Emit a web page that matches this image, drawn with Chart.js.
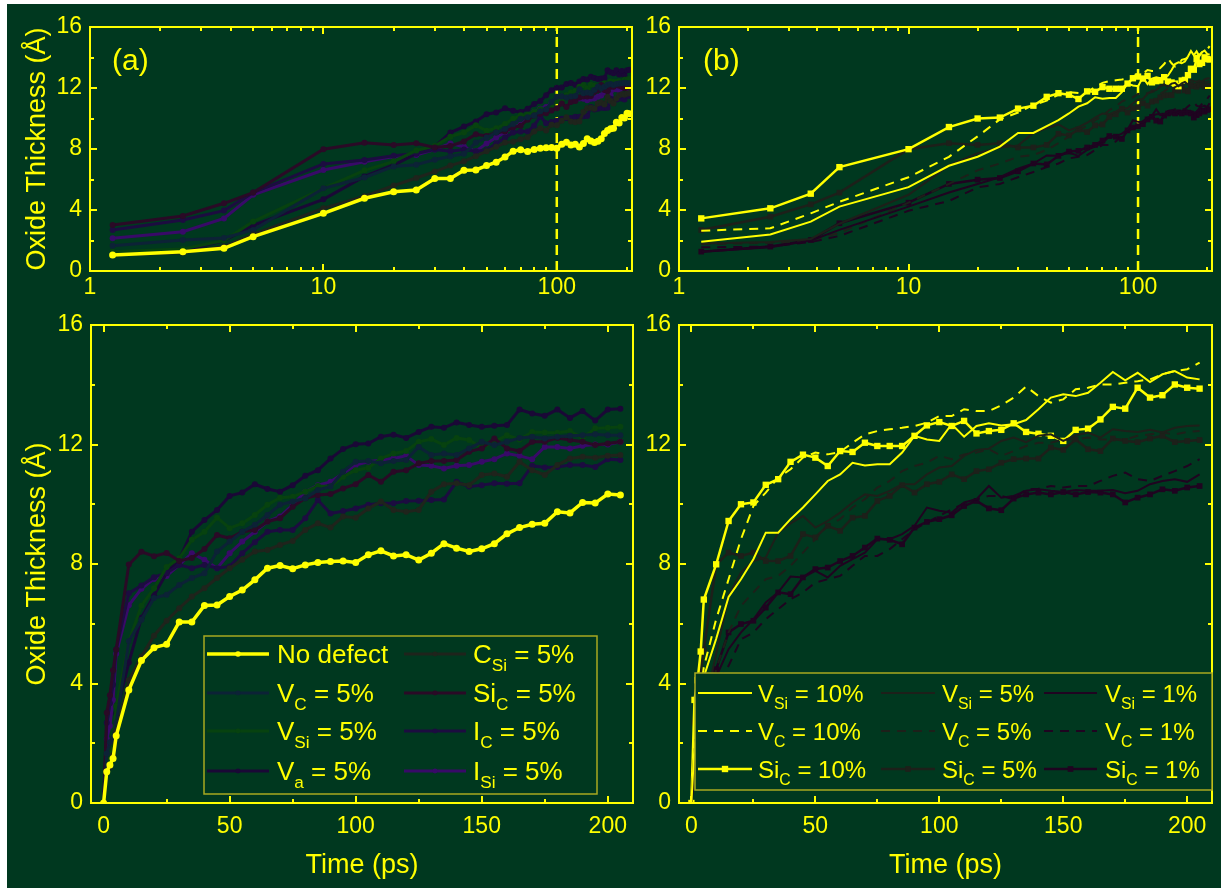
<!DOCTYPE html>
<html>
<head>
<meta charset="utf-8">
<script src="https://cdn.jsdelivr.net/npm/chart.js@4.4.1/dist/chart.umd.min.js"></script>
<style>
html, body { margin: 0; padding: 0; background: #ffffff; }
#bg { position: absolute; left: 7px; top: 4px; width: 1214px; height: 884px; background: #00381f; }
canvas { position: absolute; }
</style>
</head>
<body>
<div id="bg"></div>
<canvas id="pa" width="640" height="300" style="left:0;top:0"></canvas>
<canvas id="pb" width="581" height="300" style="left:640px;top:0"></canvas>
<canvas id="pc" width="640" height="588" style="left:0;top:300px"></canvas>
<canvas id="pd" width="581" height="588" style="left:640px;top:300px"></canvas>
<script>
// time axis (ps), shared by every series
const TIME = [0, 1.25, 2.5, 3.75, 5, 10, 15, 20, 25, 30, 35, 40, 45, 50, 55, 60, 65, 70, 75, 80, 85, 90, 95, 100,
  105, 110, 115, 120, 125, 130, 135, 140, 145, 150, 155, 160, 165, 170, 175, 180, 185, 190, 195, 200, 205];

// panels (a)/(c): 5% defects
const NO_DEFECT = [0, 1.05, 1.27, 1.49, 2.25, 3.78, 4.77, 5.2, 5.31, 6.06, 6.06, 6.61, 6.63, 6.91, 7.13, 7.47, 7.86, 7.95, 7.84, 7.97, 8.05, 8.08, 8.10,
  8.05, 8.31, 8.44, 8.27, 8.31, 8.13, 8.36, 8.68, 8.53, 8.42, 8.51, 8.68, 9.01, 9.22, 9.33, 9.36, 9.75, 9.71, 10.06, 10.04, 10.34, 10.31];
const C_SI_5 = [0, 1.05, 1.2, 1.6, 2.4, 4.11, 4.9, 5.6, 6.1, 6.52, 6.91, 7.19, 7.53, 7.86, 8.14, 8.42, 8.47, 8.64, 8.77, 9.14, 9.36, 9.22, 9.59,
  9.55, 9.86, 10.09, 9.81, 9.75, 9.81, 10.42, 10.67, 10.70, 10.64, 10.98, 11.03, 10.92, 11.42, 11.14, 10.98, 11.31, 11.53, 11.59, 11.56, 11.62, 11.65];
const V_C_5 = [0, 1.66, 2.03, 2.16, 2.69, 5.42, 6.13, 6.86, 6.97, 7.30, 7.53, 7.69, 8.42, 8.75, 9.08, 9.31, 9.64, 9.98, 10.09, 10.20, 10.48, 10.59, 11.09,
  11.42, 11.45, 11.37, 11.45, 11.48, 11.92, 11.65, 11.70, 11.65, 11.87, 12.09, 11.98, 12.09, 12.22, 12.26, 12.20, 12.26, 12.29, 12.31, 12.34, 12.31, 12.31];
const SI_C_5A = [0, 3.02, 3.61, 4.44, 5.14, 7.98, 8.41, 8.26, 8.37, 8.10, 8.20, 8.50, 8.97, 8.86, 9.08, 9.14, 9.42, 9.53, 9.92, 10.20, 10.31, 10.34, 10.53,
  10.67, 10.98, 10.75, 11.09, 11.14, 11.37, 11.45, 11.45, 11.48, 11.76, 11.87, 12.20, 11.87, 11.78, 12.09, 12.09, 12.22, 12.15, 12.09, 11.98, 12.03, 12.09];
const V_SI_5A = [0, 1.27, 1.45, 2.0, 3.24, 5.42, 6.6, 7.19, 7.9, 8.19, 8.81, 9.08, 9.55, 9.20, 9.36, 9.64, 9.98, 10.22, 10.25, 10.42, 10.61, 10.59, 10.92,
  11.14, 11.22, 11.53, 11.70, 11.78, 12.09, 12.18, 11.98, 12.22, 12.15, 11.89, 12.09, 12.31, 12.17, 12.42, 12.40, 12.39, 12.45, 12.22, 12.54, 12.56, 12.59];
const I_C_5 = [0, 2.69, 3.34, 3.96, 5.14, 7.02, 7.28, 7.56, 7.70, 7.97, 7.86, 7.97, 7.86, 7.92, 8.36, 8.73, 9.08, 9.14, 9.14, 9.53, 10.14, 9.69, 9.77,
  9.86, 9.98, 10.03, 10.03, 10.11, 10.12, 10.14, 10.16, 10.75, 10.59, 10.64, 10.70, 10.69, 10.70, 11.29, 11.23, 11.25, 11.31, 11.31, 11.25, 11.51, 11.48];
const V_A_5 = [0, 1.05, 1.3, 2.0, 3.0, 4.7, 6.2, 6.95, 7.7, 8.15, 9.08, 9.47, 9.81, 10.28, 10.39, 10.67, 10.51, 10.42, 10.64, 10.95, 11.14, 11.53, 11.85,
  12.01, 12.03, 12.26, 12.33, 12.22, 12.42, 12.59, 12.56, 12.74, 12.65, 12.59, 12.63, 12.65, 13.17, 13.04, 12.96, 13.17, 12.89, 13.12, 12.80, 13.17, 13.20];
const I_SI_5 = [0, 2.14, 2.58, 3.45, 5.0, 6.62, 7.17, 7.5, 7.6, 7.97, 8.36, 8.14, 7.86, 8.36, 8.75, 9.08, 9.42, 9.59, 9.98, 10.42, 10.64, 10.75, 11.03,
  11.31, 11.42, 11.48, 11.53, 11.62, 11.31, 11.29, 11.20, 11.29, 11.31, 11.42, 11.51, 11.70, 11.62, 11.51, 11.92, 11.92, 11.87, 11.96, 12.00, 12.00, 12.09];

// panels (b)/(d): concentration series
const V_SI_10 = [0, 1.92, 2.4, 3.24, 4.22, 5.5, 6.9, 7.49, 8.16, 9.05, 9.05, 9.5, 9.89, 10.33, 10.78, 11.0, 11.39, 11.30, 11.34, 11.34, 11.73, 12.29, 12.17,
  12.12, 12.68, 12.26, 12.62, 12.71, 12.64, 12.68, 12.82, 13.18, 13.57, 13.68, 13.62, 13.73, 14.07, 14.43, 14.15, 14.40, 14.09, 14.35, 14.46, 14.24, 14.18];
const V_SI_5 = [0, 1.81, 1.9, 2.1, 3.1, 5.0, 6.93, 7.72, 8.10, 8.22, 9.05, 9.36, 9.61, 9.22, 9.44, 9.72, 10.06, 10.33, 10.28, 10.45, 10.67, 10.67, 11.0,
  11.23, 11.28, 11.62, 11.82, 11.86, 12.12, 12.23, 12.08, 12.29, 12.34, 12.12, 12.31, 12.40, 12.23, 12.51, 12.45, 12.42, 12.49, 12.40, 12.56, 12.62, 12.64];
const V_SI_1 = [0, 1.27, 1.55, 2.0, 2.7, 4.22, 5.15, 5.71, 6.15, 6.71, 7.05, 7.58, 7.55, 7.77, 7.55, 7.94, 8.16, 8.38, 8.83, 8.83, 9.0, 9.28, 9.89,
  9.78, 9.72, 10.06, 10.17, 10.61, 10.22, 10.28, 10.45, 10.50, 10.45, 10.41, 10.48, 10.45, 10.45, 10.48, 10.37, 10.45, 10.67, 10.78, 10.84, 10.75, 11.0];
const V_C_10 = [0, 2.64, 2.8, 3.78, 4.54, 6.15, 7.49, 8.83, 9.94, 10.39, 10.89, 11.17, 11.56, 11.73, 11.67, 11.75, 12.06, 12.34, 12.45, 12.51, 12.56, 12.62, 12.73,
  12.95, 12.95, 13.18, 13.12, 13.12, 13.31, 13.57, 13.94, 13.62, 13.40, 13.51, 13.85, 13.90, 14.01, 14.01, 14.07, 14.12, 14.18, 14.35, 14.46, 14.52, 14.74];
const V_C_5B = [0, 1.75, 1.85, 2.0, 2.5, 4.48, 5.71, 6.60, 7.05, 7.49, 7.60, 7.94, 8.38, 8.83, 9.28, 9.50, 9.89, 10.17, 10.56, 10.78, 11.11, 11.28, 11.39,
  11.62, 11.51, 11.67, 11.73, 11.84, 11.62, 11.78, 11.95, 12.06, 12.06, 12.17, 12.17, 12.23, 12.17, 12.17, 12.17, 12.29, 12.34, 12.40, 12.34, 12.42, 12.45];
const V_C_1 = [0, 1.55, 1.6, 1.9, 2.3, 3.95, 4.59, 5.48, 5.71, 6.15, 6.49, 6.82, 7.05, 7.38, 7.49, 7.60, 7.94, 8.27, 8.27, 8.50, 8.83, 9.16, 9.39,
  9.61, 9.83, 10.03, 10.17, 10.28, 10.28, 10.17, 10.50, 10.52, 10.61, 10.56, 10.61, 10.61, 10.78, 10.95, 11.06, 10.84, 10.78, 10.95, 11.11, 11.28, 11.51];
const SI_C_10 = [0, 3.45, 4.11, 5.07, 6.81, 7.99, 9.44, 10.0, 10.06, 10.65, 10.84, 11.42, 11.66, 11.56, 11.28, 11.78, 11.75, 12.06, 11.95, 11.95, 11.95, 12.29, 12.64,
  12.75, 12.62, 12.79, 12.37, 12.45, 12.49, 12.71, 12.42, 12.36, 12.29, 12.12, 12.49, 12.53, 12.84, 13.26, 13.20, 13.90, 13.57, 13.65, 14.01, 13.90, 13.87];
const SI_C_5 = [0, 2.69, 3.56, 4.37, 5.14, 7.98, 8.38, 8.27, 8.38, 8.10, 8.10, 8.27, 9.0, 8.89, 9.28, 9.11, 9.55, 9.61, 10.11, 10.28, 10.64, 10.39, 10.67,
  10.75, 11.0, 10.84, 11.11, 11.17, 11.39, 11.51, 11.53, 11.53, 11.90, 11.82, 12.17, 11.84, 11.78, 12.20, 12.12, 12.08, 12.20, 12.29, 12.08, 12.12, 12.15];
const SI_C_1 = [0, 1.27, 1.6, 2.03, 3.13, 4.48, 5.71, 5.99, 6.10, 6.54, 7.05, 6.99, 7.55, 7.83, 7.88, 8.10, 8.27, 8.55, 8.85, 8.81, 8.66, 9.22, 9.41,
  9.50, 9.63, 9.94, 10.11, 9.86, 9.80, 10.19, 10.33, 10.39, 10.33, 10.41, 10.33, 10.41, 10.39, 10.33, 10.06, 10.22, 10.33, 10.50, 10.45, 10.56, 10.61];

const Y_TICKS = [0, 4, 8, 12, 16];
const Y_MINOR = [2, 6, 10, 14];
const LIN_TICKS = [0, 50, 100, 150, 200];
const LIN_MINOR = [25, 75, 125, 175];
const LOG_TICKS = [1, 10, 100];
const LOG_MINOR = [2, 3, 4, 5, 6, 7, 8, 9, 20, 30, 40, 50, 60, 70, 80, 90, 200];
const MARK_TIME = 100;

const YEL = '#ffff00';
const FONT = "'Liberation Sans', Arial, sans-serif";
Chart.defaults.font.family = FONT;
Chart.defaults.color = YEL;

// style of each series: [label, values, colour, width, point radius, point style, dash]
const DEFECTS = [
  ['No defect', NO_DEFECT, YEL, 3.5, 3.5],
  ['C_Si = 5%', C_SI_5, '#1f241c', 3, 3],
  ['V_C = 5%', V_C_5, '#0c2236', 3, 3],
  ['Si_C = 5%', SI_C_5A, '#2a0a26', 3, 3],
  ['V_Si = 5%', V_SI_5A, '#07420f', 3, 3],
  ['I_C = 5%', I_C_5, '#1c0c40', 3, 3],
  ['V_a = 5%', V_A_5, '#1a0836', 3, 3],
  ['I_Si = 5%', I_SI_5, '#380a68', 3, 3]
];
const GRAY = '#1d201a', MAROON = '#1f0420';
const CONC = [
  ['V_Si = 10%', V_SI_10, YEL, 2, 0, 'circle', []],
  ['V_Si = 5%', V_SI_5, GRAY, 2, 0, 'circle', []],
  ['V_Si = 1%', V_SI_1, MAROON, 2, 0, 'circle', []],
  ['V_C = 10%', V_C_10, YEL, 2, 0, 'circle', [9, 7]],
  ['V_C = 5%', V_C_5B, GRAY, 2, 0, 'circle', [9, 7]],
  ['V_C = 1%', V_C_1, MAROON, 2, 0, 'circle', [9, 7]],
  ['Si_C = 10%', SI_C_10, YEL, 2.5, 4.5, 'rect', []],
  ['Si_C = 5%', SI_C_5, GRAY, 2.5, 4, 'rect', []],
  ['Si_C = 1%', SI_C_1, MAROON, 2.5, 4, 'rect', []]
];

function makeDatasets(list, logX) {
  return list.map(([label, vals, color, w, r, ps, dash]) => ({
    label: label,
    data: TIME.map((t, i) => ({ x: t, y: vals[i] })).filter(p => !logX || p.x > 0),
    borderColor: color, backgroundColor: color, borderWidth: w,
    borderDash: dash || [], pointRadius: r, pointStyle: ps || 'circle',
    pointBorderWidth: 0, pointHoverRadius: 0, tension: 0
  }));
}
function markerLine() {
  return { label: 'mark', data: [{ x: MARK_TIME, y: 0 }, { x: MARK_TIME, y: 16 }], borderColor: YEL,
    borderWidth: 2.5, borderDash: [10, 6], pointRadius: 0 };
}

function drawLabel(ctx, text, x, y, size) {
  const m = text.match(/^([A-Za-z]+)_([A-Za-z]+)(.*)$/);
  const parts = m ? [[m[1], 0, size], [m[2], size * 0.3, size * 0.66], [m[3], 0, size]] : [[text, 0, size]];
  ctx.textBaseline = 'alphabetic';
  ctx.textAlign = 'left';
  ctx.fillStyle = YEL;
  const base = y + size * 0.36;
  for (const [s, dy, fs] of parts) {
    ctx.font = fs + 'px ' + FONT;
    ctx.fillText(s, x, base + dy);
    x += ctx.measureText(s).width;
  }
}
function drawSample(ctx, ds, x0, x1, y) {
  ctx.save();
  ctx.strokeStyle = ds.borderColor;
  ctx.lineWidth = ds.borderWidth;
  ctx.setLineDash(ds.borderDash || []);
  ctx.beginPath(); ctx.moveTo(x0, y); ctx.lineTo(x1, y); ctx.stroke();
  ctx.setLineDash([]);
  const r = ds.pointRadius, cx = (x0 + x1) / 2;
  ctx.fillStyle = ds.borderColor;
  if (r > 0 && ds.pointStyle === 'rect') {
    const s = r * Math.SQRT1_2;
    ctx.fillRect(cx - s, y - s, 2 * s, 2 * s);
  } else if (r > 0) {
    ctx.beginPath(); ctx.arc(cx, y, r * 0.8, 0, Math.PI * 2); ctx.fill();
  }
  ctx.restore();
}

// frame, inward ticks on all four sides, panel tag and legend box
const framePlugin = {
  id: 'frame',
  afterDatasetsDraw(chart, args, o) {
    const { ctx, chartArea: a, scales: { x, y } } = chart;
    ctx.save();
    ctx.strokeStyle = YEL;
    ctx.lineWidth = 2;
    ctx.beginPath();
    const xt = (vals, len) => vals.forEach(v => {
      const p = Math.round(x.getPixelForValue(v));
      ctx.moveTo(p, a.bottom); ctx.lineTo(p, a.bottom - len);
      ctx.moveTo(p, a.top); ctx.lineTo(p, a.top + len);
    });
    const yt = (vals, len) => vals.forEach(v => {
      const p = Math.round(y.getPixelForValue(v));
      ctx.moveTo(a.left, p); ctx.lineTo(a.left + len, p);
      ctx.moveTo(a.right, p); ctx.lineTo(a.right - len, p);
    });
    xt(o.xMajor, 7); xt(o.xMinor, 4); yt(Y_TICKS, 7); yt(Y_MINOR, 4);
    ctx.stroke();
    ctx.strokeRect(a.left, a.top, a.right - a.left, a.bottom - a.top);
    if (o.tag) {
      ctx.fillStyle = YEL;
      ctx.font = '30px ' + FONT;
      ctx.textBaseline = 'middle';
      ctx.fillText(o.tag, o.tagX, o.tagY);
    }
    if (o.legend) {
      const L = o.legend;
      ctx.fillStyle = '#00381f';
      ctx.fillRect(L.x, L.y, L.w, L.h);
      ctx.strokeStyle = '#a8a820';
      ctx.lineWidth = 1.5;
      ctx.strokeRect(L.x, L.y, L.w, L.h);
      L.items.forEach(([idx, col, row]) => {
        const ds = chart.data.datasets[idx];
        const c = L.cols[col], yy = L.rows[row];
        drawSample(ctx, ds, c[0], c[1], yy);
        drawLabel(ctx, ds.label, c[2], yy, L.size);
      });
    }
    ctx.restore();
  }
};

function makePanel(id, o) {
  const fixedTicks = vals => scale => { scale.ticks = vals.map(v => ({ value: v })); };
  return new Chart(document.getElementById(id), {
    type: 'line',
    data: { datasets: o.datasets },
    options: {
      responsive: false, animation: false, devicePixelRatio: 1,
      layout: { padding: { left: 0, top: o.padTop, right: o.padRight, bottom: 0 } },
      plugins: { legend: { display: false }, tooltip: { enabled: false }, frame: o.frame },
      scales: {
        x: {
          type: o.logX ? 'logarithmic' : 'linear',
          min: o.logX ? 1 : -5, max: 210,
          afterBuildTicks: fixedTicks(o.logX ? LOG_TICKS : LIN_TICKS),
          afterFit: s => { s.height = o.xHeight; },
          grid: { display: false, drawTicks: false }, border: { display: false },
          ticks: { color: YEL, font: { size: 23 }, padding: o.xPad, maxRotation: 0, autoSkip: false, callback: v => String(v) },
          title: { display: !!o.xTitle, text: o.xTitle || '', color: YEL, font: { size: 27 }, padding: { top: 0, bottom: 6 } }
        },
        y: {
          type: 'linear', min: 0, max: 16,
          afterBuildTicks: fixedTicks(Y_TICKS),
          afterFit: s => { s.width = o.yWidth; },
          grid: { display: false, drawTicks: false }, border: { display: false },
          ticks: { color: YEL, font: { size: 23 }, padding: 8, callback: v => String(v) },
          title: { display: !!o.yTitle, text: o.yTitle || '', color: YEL, font: { size: 27 }, padding: { top: 21, bottom: 0 } }
        }
      }
    },
    plugins: [framePlugin]
  });
}

document.addEventListener('DOMContentLoaded', () => {
  const Y_TITLE = 'Oxide Thickness (Å)';
  const X_TITLE = 'Time (ps)';

  makePanel('pa', {
    datasets: makeDatasets(DEFECTS, true).concat([markerLine()]),
    logX: true, padTop: 27, padRight: 8, yWidth: 90, xHeight: 29, xPad: 3, yTitle: Y_TITLE,
    frame: { xMajor: LOG_TICKS, xMinor: LOG_MINOR, tag: '(a)', tagX: 112, tagY: 62 }
  });
  makePanel('pb', {
    datasets: makeDatasets(CONC, true).concat([markerLine()]),
    logX: true, padTop: 27, padRight: 9, yWidth: 39, xHeight: 29, xPad: 3,
    frame: { xMajor: LOG_TICKS, xMinor: LOG_MINOR, tag: '(b)', tagX: 63, tagY: 62 }
  });
  makePanel('pc', {
    datasets: makeDatasets(DEFECTS, false),
    logX: false, padTop: 25, padRight: 7, yWidth: 91, xHeight: 85, xPad: 10, yTitle: Y_TITLE, xTitle: X_TITLE,
    frame: {
      xMajor: LIN_TICKS, xMinor: LIN_MINOR,
      legend: {
        x: 204, y: 336, w: 393, h: 158, size: 26,
        cols: [[207, 269, 277], [404, 466, 473]],
        rows: [354, 393, 431, 471],
        items: [[0, 0, 0], [2, 0, 1], [4, 0, 2], [6, 0, 3], [1, 1, 0], [3, 1, 1], [5, 1, 2], [7, 1, 3]]
      }
    }
  });
  makePanel('pd', {
    datasets: makeDatasets(CONC, false),
    logX: false, padTop: 25, padRight: 9, yWidth: 39, xHeight: 85, xPad: 10, xTitle: X_TITLE,
    frame: {
      xMajor: LIN_TICKS, xMinor: LIN_MINOR,
      legend: {
        x: 55, y: 373, w: 517, h: 117, size: 24,
        cols: [[58, 112, 118], [241, 295, 302], [404, 457, 465]],
        rows: [393, 431, 469],
        items: [[0, 0, 0], [1, 1, 0], [2, 2, 0], [3, 0, 1], [4, 1, 1], [5, 2, 1], [6, 0, 2], [7, 1, 2], [8, 2, 2]]
      }
    }
  });
});
</script>
</body>
</html>
